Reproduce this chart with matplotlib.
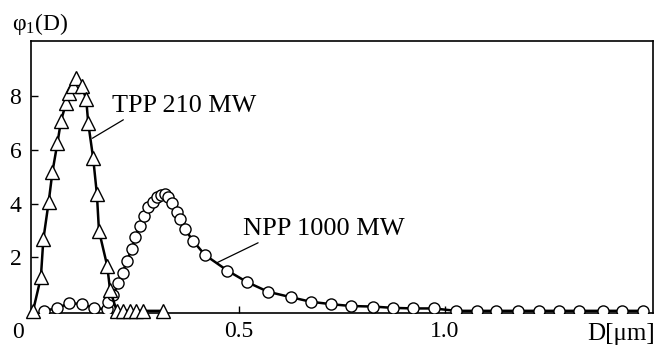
import matplotlib
matplotlib.use("Agg")
import matplotlib.pyplot as plt

plt.rcParams['font.family'] = ['Liberation Serif', 'DejaVu Serif']
plt.rcParams['mathtext.fontset'] = 'custom'
plt.rcParams['mathtext.rm'] = 'Liberation Serif'

# TPP 210 MW (triangles)
tpp_d = [0.0, 0.019, 0.025, 0.038, 0.047, 0.059, 0.068, 0.080, 0.087, 0.098,
         0.104, 0.118, 0.129, 0.134, 0.146, 0.155, 0.160, 0.180, 0.187,
         0.203, 0.218, 0.235, 0.251, 0.268, 0.316]
tpp_phi = [0.0, 1.25, 2.67, 4.07, 5.18, 6.25, 7.10, 7.75, 8.12, 8.39,
           8.68, 8.39, 7.90, 7.00, 5.69, 4.35, 2.99, 1.68, 0.78,
           0.0, 0.0, 0.0, 0.0, 0.0, 0.0]

# NPP 1000 MW (circles)
npp_d = [0.027, 0.058, 0.087, 0.118, 0.149, 0.179, 0.181, 0.195, 0.207, 0.218,
         0.227, 0.240, 0.248, 0.260, 0.269, 0.280, 0.290, 0.300, 0.310, 0.320,
         0.328, 0.338, 0.349, 0.357, 0.369, 0.389, 0.417, 0.472, 0.520, 0.571,
         0.626, 0.674, 0.723, 0.772, 0.825, 0.875, 0.923, 0.973, 1.027, 1.077,
         1.123, 1.178, 1.229, 1.277, 1.326, 1.383, 1.430, 1.480]
npp_phi = [0.0, 0.10, 0.28, 0.26, 0.10, 0.06, 0.32, 0.59, 1.05, 1.43,
           1.86, 2.30, 2.77, 3.18, 3.54, 3.87, 4.07, 4.24, 4.32, 4.36,
           4.26, 4.01, 3.70, 3.42, 3.04, 2.60, 2.09, 1.50, 1.07, 0.71,
           0.51, 0.34, 0.25, 0.18, 0.16, 0.11, 0.09, 0.09, 0.0, 0.0,
           0.0, 0.0, 0.0, 0.0, 0.0, 0.0, 0.0, 0.0]

x_ticks = [0.5, 1.0]
x_tick_labels = ['0.5', '1.0']
y_ticks = [2, 4, 6, 8]

fig = plt.figure(figsize=(6.58, 3.46), dpi=100)
ax = fig.add_axes([0.0471, 0.0954, 0.9453, 0.7861])

ax.plot(npp_d, npp_phi, color='black', lw=1.8, marker='o', ms=8,
        mfc='white', mec='black', mew=1.0, zorder=3)
ax.plot(tpp_d, tpp_phi, color='black', lw=1.8, marker='^', ms=10,
        mfc='white', mec='black', mew=1.0, zorder=4, clip_on=False)

ax.set_xlim(-0.005, 1.505)
ax.set_ylim(-0.08, 10.07)

ax.set_xticks(x_ticks)
ax.set_xticklabels(x_tick_labels)
ax.set_yticks(y_ticks)
ax.tick_params(direction='in', length=5, width=1.0, labelsize=17)
ax.tick_params(axis='x', pad=6)
ax.tick_params(axis='y', pad=7)
for s in ax.spines.values():
    s.set_linewidth(1.2)

# annotations
ax.annotate('TPP 210 MW', xy=(0.144, 6.44), xytext=(0.192, 7.42),
            fontsize=18.8, va='baseline', ha='left',
            arrowprops=dict(arrowstyle='-', lw=0.9, color='black',
                            shrinkA=0, shrinkB=0,
                            relpos=(0.11, 0.0)))
ax.annotate('NPP 1000 MW', xy=(0.447, 1.80), xytext=(0.510, 2.83),
            fontsize=19, va='baseline', ha='left',
            arrowprops=dict(arrowstyle='-', lw=0.9, color='black',
                            shrinkA=0, shrinkB=0,
                            relpos=(0.1, -0.1)))

fig.text(18 / 658, 1 - 333 / 346, '0', fontsize=17, ha='center', va='center')
fig.text(655 / 658, 1 - 340 / 346, 'D[μm]', fontsize=18, ha='right', va='baseline')
fig.text(12 / 658, 1 - 30 / 346, r'$\mathregular{φ_1(D)}$', fontsize=17,
         ha='left', va='baseline')

plt.savefig('out.png', dpi=100)
